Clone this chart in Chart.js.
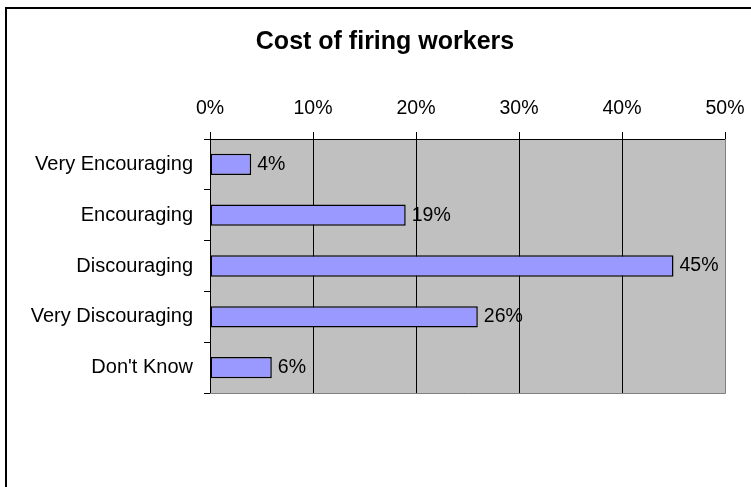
<!DOCTYPE html>
<html>
<head>
<meta charset="utf-8">
<script src="https://cdn.jsdelivr.net/npm/chart.js@4/dist/chart.umd.min.js"></script>
<style>
  body { margin: 0; background: #fff; }
  canvas { display: block; }
</style>
</head>
<body>
<canvas id="firingChart" width="751" height="487"></canvas>
<script>
// data
var categories = ['Very Encouraging', 'Encouraging', 'Discouraging', 'Very Discouraging', "Don't Know"];
var shares = [4, 19, 45, 26, 6];
var tickMax = 50;
var tickStep = 10;

var font = 'Liberation Sans, Arial, sans-serif';

// grey plot area, outer frame and title
var backdrop = {
    id: 'backdrop',
    beforeDraw: function (chart) {
        var ctx = chart.ctx, a = chart.chartArea;
        ctx.save();
        ctx.fillStyle = '#C0C0C0';
        ctx.fillRect(a.left, a.top, a.right - a.left, a.bottom - a.top);
        ctx.restore();
    },
    afterDraw: function (chart) {
        var ctx = chart.ctx, a = chart.chartArea;
        ctx.save();
        ctx.strokeStyle = '#808080';
        ctx.lineWidth = 1;
        ctx.beginPath();
        ctx.moveTo(a.right + 0.5, a.top);
        ctx.lineTo(a.right + 0.5, a.bottom + 0.5);
        ctx.lineTo(a.left, a.bottom + 0.5);
        ctx.stroke();
        // frame is cut off on the right and bottom
        ctx.fillStyle = '#000';
        ctx.fillRect(5, 7, 2, chart.height - 7);
        ctx.fillRect(5, 7, chart.width - 5, 2);
        ctx.font = 'bold 25px ' + font;
        ctx.textAlign = 'center';
        ctx.textBaseline = 'middle';
        ctx.fillText('Cost of firing workers', 385, 42);
        ctx.restore();
    }
};

// value labels right of each bar
var barLabels = {
    id: 'barLabels',
    afterDatasetsDraw: function (chart) {
        var ctx = chart.ctx;
        var meta = chart.getDatasetMeta(0);
        ctx.save();
        ctx.fillStyle = '#000';
        ctx.font = '19.5px ' + font;
        ctx.textAlign = 'left';
        ctx.textBaseline = 'middle';
        meta.data.forEach(function (bar, i) {
            ctx.fillText(shares[i] + '%', bar.x + 6, bar.y);
        });
        ctx.restore();
    }
};

var ctx = document.getElementById('firingChart').getContext('2d');
new Chart(ctx, {
    type: 'bar',
    data: {
        labels: categories,
        datasets: [{
            data: shares,
            backgroundColor: '#9999FF',
            borderColor: '#000',
            borderWidth: 1.5,
            borderSkipped: false,
            categoryPercentage: 1,
            barPercentage: 0.42
        }]
    },
    options: {
        indexAxis: 'y',
        responsive: false,
        animation: false,
        layout: { padding: { left: 0, top: 0, right: 26, bottom: 94 } },
        plugins: {
            legend: { display: false },
            title: { display: false },
            tooltip: { enabled: false }
        },
        scales: {
            x: {
                position: 'top',
                min: 0,
                max: tickMax,
                ticks: {
                    stepSize: tickStep,
                    color: '#000',
                    font: { family: font, size: 19.5 },
                    padding: 12,
                    callback: function (v) { return v + '%'; }
                },
                grid: { color: '#000', tickLength: 7, tickColor: '#000' },
                border: { color: '#000' },
                afterFit: function (s) {
                    s.height = 139;
                    s.paddingLeft = 0;
                    s.paddingRight = 0;
                }
            },
            y: {
                ticks: {
                    color: '#000',
                    font: { family: font, size: 20 },
                    padding: 11
                },
                grid: { offset: true, drawOnChartArea: false, tickLength: 6, tickColor: '#000' },
                border: { color: '#000' },
                afterFit: function (s) { s.width = 210; }
            }
        }
    },
    plugins: [backdrop, barLabels]
});
</script>
</body>
</html>
